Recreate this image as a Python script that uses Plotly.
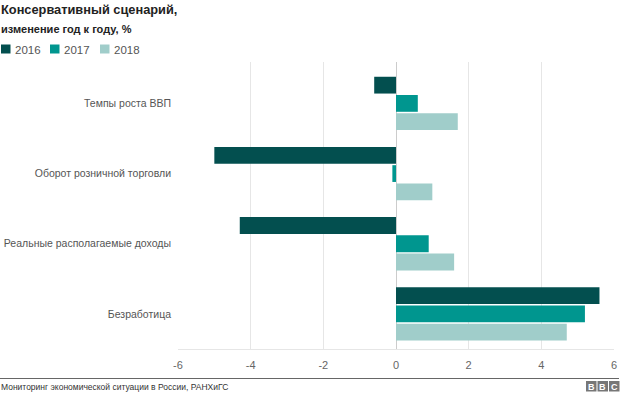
import plotly.graph_objects as go

categories = ["Темпы роста ВВП", "Оборот розничной торговли",
              "Реальные располагаемые доходы", "Безработица"]
years = ["2016", "2017", "2018"]
values_2016 = [-0.6, -5.0, -4.3, 5.6]
values_2017 = [0.6, -0.1, 0.9, 5.2]
values_2018 = [1.7, 1.0, 1.6, 4.7]
colors = ["#034f4f", "#00968f", "#a0cdca"]
x_ticks = [-6, -4, -2, 0, 2, 4, 6]
title_1 = "Консервативный сценарий,"
title_2 = "изменение год к году, %"
source = "Мониторинг экономической ситуации в России, РАНХиГС"

W, H = 640, 394
L, R, T, B = 178, 26, 62, 45
PW = W - L - R
PH = H - T - B


def px(x):
    return (x - L) / PW


def py(y):
    return 1 - (y - T) / PH


font = "Liberation Sans, Arial, sans-serif"
fig = go.Figure()
for yr, vals, col in zip(years, [values_2016, values_2017, values_2018], colors):
    fig.add_trace(go.Bar(y=categories, x=vals, orientation="h", name=yr,
                         marker=dict(color=col, line=dict(width=0)),
                         showlegend=False))

shapes = []
annotations = []
# legend
leg_x = [1, 50, 100]
for i, (yr, col) in enumerate(zip(years, colors)):
    x0 = leg_x[i]
    shapes.append(dict(type="rect", xref="paper", yref="paper",
                       x0=px(x0), x1=px(x0 + 9.5), y0=py(53.5), y1=py(44.5),
                       fillcolor=col, line=dict(width=0)))
    annotations.append(dict(text=yr, xref="paper", yref="paper",
                            x=px(x0 + 11.5), y=py(49.5), xanchor="left", yanchor="middle",
                            showarrow=False, font=dict(size=11.5, color="#555555", family=font)))
# titles
annotations.append(dict(text="<b>" + title_1 + "</b>", xref="paper", yref="paper",
                        x=px(-1), y=py(10), xanchor="left", yanchor="middle", showarrow=False,
                        font=dict(size=12.8, color="#222222", family=font)))
annotations.append(dict(text="<b>" + title_2 + "</b>", xref="paper", yref="paper",
                        x=px(-1), y=py(29), xanchor="left", yanchor="middle", showarrow=False,
                        font=dict(size=11, color="#222222", family=font)))
# footer
shapes.append(dict(type="line", xref="paper", yref="paper",
                   x0=px(0), x1=px(619), y0=py(378.5), y1=py(378.5),
                   line=dict(color="#666666", width=1)))
annotations.append(dict(text=source, xref="paper", yref="paper",
                        x=px(-1), y=py(386.5), xanchor="left", yanchor="middle", showarrow=False,
                        font=dict(size=8.5, color="#333333", family=font)))
for i, ch in enumerate("BBC"):
    x0 = 586 + i * 11.5
    shapes.append(dict(type="rect", xref="paper", yref="paper",
                       x0=px(x0), x1=px(x0 + 10.5), y0=py(391.5), y1=py(381),
                       fillcolor="#777777", line=dict(width=0)))
    annotations.append(dict(text="<b>" + ch + "</b>", xref="paper", yref="paper",
                            x=px(x0 + 5.25), y=py(386.5), xanchor="center", yanchor="middle",
                            showarrow=False,
                            font=dict(size=9, color="#ffffff", family=font)))

fig.update_layout(
    width=W, height=H,
    margin=dict(l=L, r=R, t=T, b=B, pad=0, autoexpand=False),
    paper_bgcolor="white", plot_bgcolor="white",
    barmode="group", bargap=0.22, bargroupgap=0.08,
    font=dict(family=font, size=11, color="#555555"),
    shapes=shapes, annotations=annotations,
    showlegend=False,
)
fig.update_xaxes(range=[-6, 6], tickvals=x_ticks, ticktext=[str(v) for v in x_ticks],
                 showgrid=True, gridcolor="#e6e6e6", gridwidth=1,
                 zeroline=True, zerolinecolor="#cccccc", zerolinewidth=1,
                 showline=True, linecolor="#e6e6e6", linewidth=1,
                 ticks="", ticklabelstandoff=6, tickfont=dict(size=11, color="#666666"),
                 automargin=False, fixedrange=True)
fig.update_yaxes(type="category", categoryorder="array", categoryarray=categories,
                 range=[3.5, -0.59], showgrid=False, zeroline=False,
                 ticks="", ticklabelstandoff=6, automargin=False,
                 tickfont=dict(size=10.5, color="#555555"), fixedrange=True)

fig.write_html("out.html", config={"displayModeBar": False},
               post_script="document.body.style.margin='0';document.body.style.overflow='hidden';")
